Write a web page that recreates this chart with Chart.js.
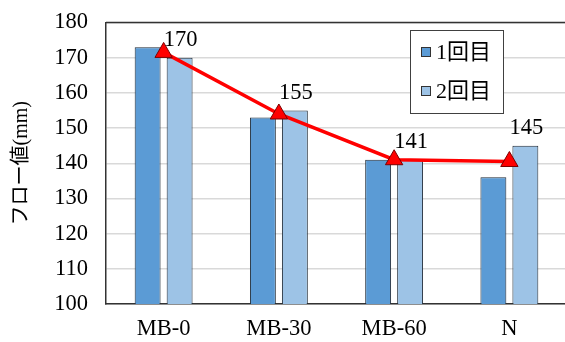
<!DOCTYPE html>
<html>
<head>
<meta charset="utf-8">
<script src="https://cdn.jsdelivr.net/npm/chart.js@4"></script>
<style>
  html, body { margin: 0; padding: 0; background: #fff; overflow: hidden; }
  #wrap { width: 578px; height: 351px; margin-top: -9px; }
</style>
</head>
<body>
<div id="wrap"><canvas id="flowChart"></canvas></div>
<script>
const categories = ["MB-0", "MB-30", "MB-60", "N"];
const firstRun = [173, 153, 141, 136];
const secondRun = [170, 155, 141, 145];
const meanLine = [171.5, 154, 141, 140.5];
const yTicks = [100, 110, 120, 130, 140, 150, 160, 170, 180];

const serif = "'Liberation Serif', 'Noto Sans CJK JP', serif";

// labels above the 2nd run bars
const barLabels = {
  id: "barLabels",
  afterDatasetsDraw(chart) {
    const ctx = chart.ctx;
    const meta = chart.getDatasetMeta(2);
    ctx.save();
    ctx.font = "22.5px " + serif;
    ctx.fillStyle = "#000";
    ctx.textAlign = "center";
    ctx.textBaseline = "bottom";
    meta.data.forEach((bar, i) => {
      ctx.fillText(secondRun[i], bar.x + 1, bar.y - 6);
    });
    ctx.restore();
  },
};

// legend box drawn inside the plot, top right
const boxLegend = {
  id: "boxLegend",
  afterDraw(chart) {
    const ctx = chart.ctx;
    const top = 39; // canvas is shifted up by 9px
    ctx.save();
    ctx.fillStyle = "#fff";
    ctx.fillRect(410, top, 93, 83);
    ctx.strokeStyle = "#404040";
    ctx.lineWidth = 1;
    ctx.strokeRect(410.5, top + 0.5, 93, 83);
    const items = [
      { text: "1回目", color: "#5B9BD5", y: top + 22 },
      { text: "2回目", color: "#9DC3E6", y: top + 61 },
    ];
    ctx.font = "22px " + serif;
    ctx.textBaseline = "middle";
    items.forEach((it) => {
      ctx.fillStyle = it.color;
      ctx.fillRect(421, it.y - 5, 10, 10);
      ctx.strokeStyle = "#333";
      ctx.strokeRect(421.5, it.y - 4.5, 9, 9);
      ctx.fillStyle = "#000";
      ctx.fillText(it.text, 436, it.y + 1);
    });
    ctx.restore();
  },
};

const ctx = document.getElementById("flowChart").getContext("2d");
const flowChart = new Chart(ctx, {
  data: {
    labels: categories,
    datasets: [
      {
        type: "line",
        label: "平均",
        data: meanLine,
        borderColor: "#FF0000",
        borderWidth: 3.5,
        pointStyle: "triangle",
        pointRadius: 10,
        pointHoverRadius: 10,
        pointBackgroundColor: "#FF0000",
        pointBorderColor: "#7a0000",
        pointBorderWidth: 1,
        tension: 0,
        order: 0,
      },
      {
        type: "bar",
        label: "1回目",
        data: firstRun,
        backgroundColor: "#5B9BD5",
        borderColor: "#1f2a36",
        borderWidth: 1,
        barPercentage: 0.81,
        categoryPercentage: 0.555,
        order: 1,
      },
      {
        type: "bar",
        label: "2回目",
        data: secondRun,
        backgroundColor: "#9DC3E6",
        borderColor: "#1f2a36",
        borderWidth: 1,
        barPercentage: 0.81,
        categoryPercentage: 0.555,
        order: 1,
      },
    ],
  },
  options: {
    responsive: true,
    maintainAspectRatio: false,
    animation: false,
    layout: { padding: { top: 10, right: 4, bottom: 0, left: 0 } },
    plugins: {
      legend: { display: false },
      tooltip: { enabled: false },
    },
    scales: {
      x: {
        afterFit: (scale) => {
          scale.height = 38;
        },
        grid: { display: false, drawTicks: false },
        border: { color: "#333", width: 1.5 },
        ticks: { color: "#000", font: { family: serif, size: 22.5 }, padding: 12 },
      },
      y: {
        min: 100,
        max: 180,
        afterBuildTicks: (scale) => {
          scale.ticks = yTicks.map((v) => ({ value: v }));
        },
        afterFit: (scale) => {
          scale.width = 106;
        },
        grid: { color: "#d9d9d9", lineWidth: 1.5, drawTicks: false },
        border: { color: "#333", width: 1.5 },
        ticks: { color: "#000", font: { family: serif, size: 22.5 }, padding: 18 },
        title: {
          display: true,
          text: "フロー値(mm)",
          color: "#000",
          font: { family: serif, size: 20 },
          padding: { top: 10, bottom: 0 },
        },
      },
    },
  },
  plugins: [barLabels, boxLegend,
    {
      id: "topBorder",
      afterDraw(chart) {
        const a = chart.chartArea;
        const c = chart.ctx;
        c.save();
        c.strokeStyle = "#333";
        c.lineWidth = 1.5;
        c.beginPath();
        c.moveTo(a.left, a.top);
        c.lineTo(a.right, a.top);
        c.stroke();
        c.restore();
      },
    }],
});
</script>
</body>
</html>
